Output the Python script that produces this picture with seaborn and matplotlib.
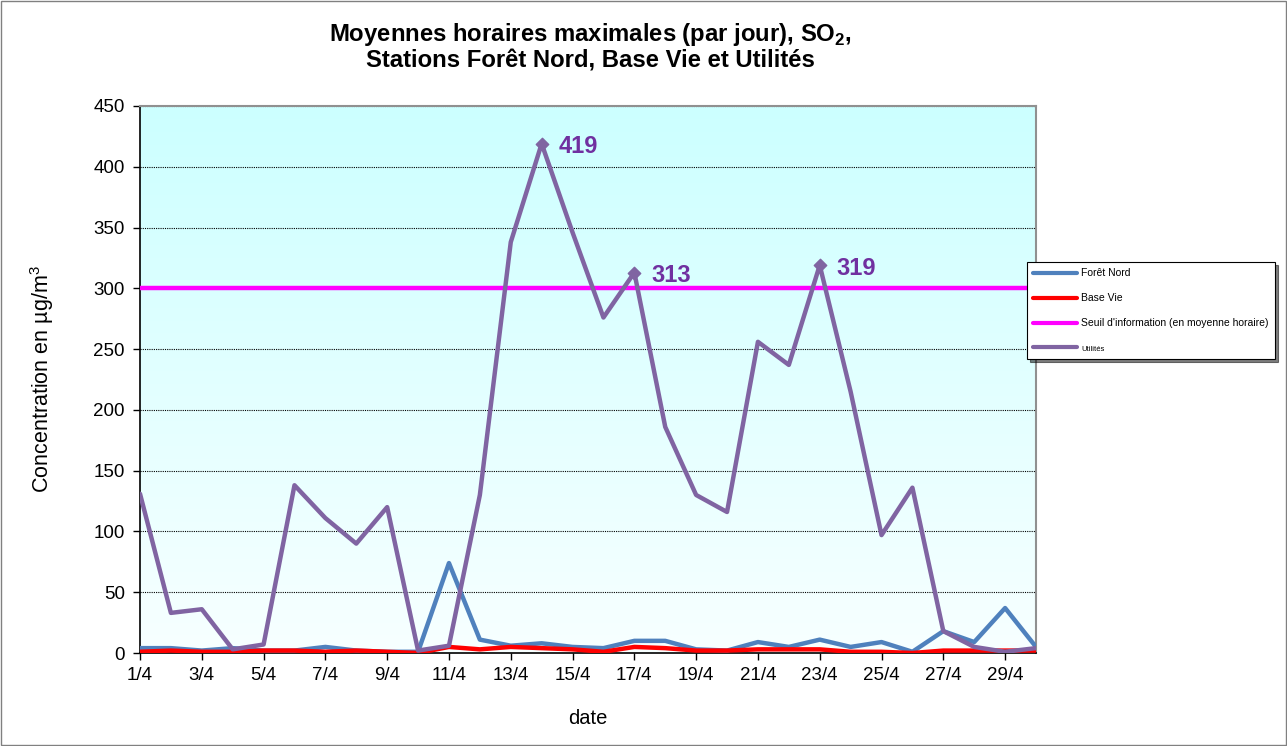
import matplotlib
matplotlib.use("Agg")
import matplotlib.pyplot as plt
import numpy as np
import pandas as pd
import seaborn as sns
from matplotlib.patches import Rectangle

sns.set_theme(style="white")
plt.rcParams['font.family'] = ['Liberation Sans', 'DejaVu Sans']
plt.rcParams['mathtext.fontset'] = 'custom'
plt.rcParams['mathtext.rm'] = 'Liberation Sans'
plt.rcParams['mathtext.bf'] = 'Liberation Sans:bold'
plt.rcParams['text.color'] = 'black'
plt.rcParams['axes.labelcolor'] = 'black'

# Data (April, one value per day)
days = list(range(1, 31))
foret_nord = [4, 4, 2, 4, 2, 2, 5, 2, 1, 1, 74, 11, 6, 8, 5,
              4, 10, 10, 3, 2, 9, 5, 11, 5, 9, 1, 18, 9, 37, 5]
base_vie = [1, 2, 1, 1, 2, 2, 1, 2, 1, 0, 5, 3, 5, 4, 3,
            1, 5, 4, 2, 2, 3, 3, 3, 1, 1, 0, 2, 2, 2, 2]
seuil = [300] * 30
utilites = [131, 33, 36, 3, 7, 138, 111, 90, 120, 2, 6, 130, 338, 419, 346,
            276, 313, 186, 130, 116, 256, 237, 319, 215, 97, 136, 18, 5, 1, 4]
peak_days = [14, 17, 23]
tick_days = list(range(1, 31, 2))
tick_labels = [f"{d}/4" for d in tick_days]

names = ["Forêt Nord", "Base Vie", "Seuil d'information (en moyenne horaire)", "Utilités"]
colors = ["#4F81BD", "#FF0000", "#FF00FF", "#8064A2"]

df = pd.DataFrame({"day": days, names[0]: foret_nord, names[1]: base_vie,
                   names[2]: seuil, names[3]: utilites})

fig = plt.figure(figsize=(12.87, 7.46), dpi=100)
ax = fig.add_axes([140/1287, 1-653/746, (1036-140)/1287, (653-106)/746])

# gradient background of the plot area
grad = np.linspace(0, 1, 256).reshape(-1, 1)
top = np.array([0.80, 1.0, 1.0])
bot = np.array([0.97, 1.0, 1.0])
img = top[None, None, :] * (1 - grad[:, :, None]) + bot[None, None, :] * grad[:, :, None]
ax.imshow(img, extent=[0, 1, 0, 1], transform=ax.transAxes, aspect='auto', zorder=0)

for y in range(50, 451, 50):
    ax.axhline(y, color='black', lw=0.8, ls=(0, (1, 1)), zorder=1)

for name, c in zip(names, colors):
    sns.lineplot(data=df, x="day", y=name, ax=ax, color=c, lw=3.2, label=name, zorder=3)

pk = df[df["day"].isin(peak_days)]
ax.scatter(pk["day"], pk[names[3]], marker='D', s=40, color="#8064A2", zorder=4)
for d, v in zip(pk["day"], pk[names[3]]):
    ax.annotate(str(v), (d, v), xytext=(12, -2), textcoords='offset points',
                fontsize=17, fontweight='bold', color="#7030A0", va='center', ha='left')

ax.set_xlim(1, 30)
ax.set_ylim(0, 450)
ax.set_xticks(tick_days)
ax.set_xticklabels(tick_labels)
ax.set_yticks(range(0, 451, 50))
ax.tick_params(axis='both', labelsize=13.5, direction='out', length=5, width=1,
               colors='black', bottom=True, left=True)
ax.tick_params(axis='y', pad=6)
ax.tick_params(axis='x', pad=5)
ax.set_xlabel("date", fontsize=14.5, labelpad=18)
ax.set_ylabel("Concentration en µg/m$^3$", fontsize=15.5, labelpad=27)
for s in ['left', 'bottom']:
    ax.spines[s].set_color('black')
    ax.spines[s].set_linewidth(1.2)
for s in ['top', 'right']:
    ax.spines[s].set_color('#909090')
    ax.spines[s].set_linewidth(1.5)

fig.text(0.459, 1-35/746, "Moyennes horaires maximales (par jour), SO$_{\\mathbf{2}}$,",
         ha='center', va='center', fontsize=17.2, fontweight='bold', color='black')
fig.text(0.459, 1-61/746, "Stations Forêt Nord, Base Vie et Utilités",
         ha='center', va='center', fontsize=17.2, fontweight='bold', color='black')

leg = ax.legend(loc='upper left', bbox_to_anchor=(1027/1287, 1-262/746),
                bbox_transform=fig.transFigure, borderaxespad=0, fontsize=7.5,
                frameon=True, fancybox=False, edgecolor='black', framealpha=1,
                shadow={'color': 'black'}, handlelength=4.2, labelspacing=1.45,
                borderpad=0.6, handletextpad=0.4)
leg.get_frame().set_linewidth(0.8)
leg.get_texts()[3].set_fontsize(5.5)
for t in leg.get_lines():
    t.set_linewidth(3)

fig.add_artist(Rectangle((0.001, 0.001), 0.998, 0.997, transform=fig.transFigure,
                         fill=False, edgecolor='#808080', lw=1))

fig.savefig("out.png", dpi=100)
